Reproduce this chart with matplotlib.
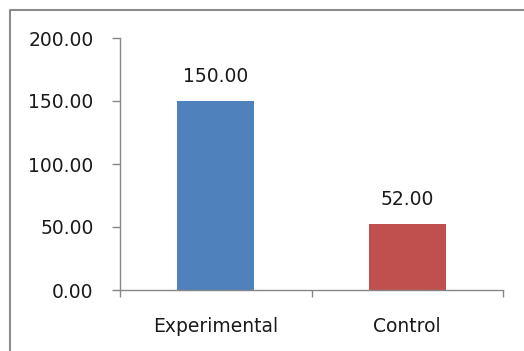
import matplotlib
matplotlib.use('Agg')
import matplotlib.pyplot as plt
import numpy as np

categories = ['Experimental', 'Control']
values = [150.00, 52.00]
bar_colors = ['#4F81BD', '#C0504D']
y_ticks = [0, 50, 100, 150, 200]

plt.rcParams['font.family'] = ['DejaVu Sans']

fig = plt.figure(figsize=(5.24, 3.51), dpi=100)
# chart border (left and top only visible in the reference)
fig.add_artist(plt.Line2D([9.5 / 524, 9.5 / 524, 1.0], [0, 1 - 10 / 351, 1 - 10 / 351],
                          color='#8c8c8c', lw=1.5, solid_capstyle='butt', transform=fig.transFigure))

ax = fig.add_axes([120 / 524, 61 / 351, 383 / 524, 252 / 351])
x = np.arange(len(categories))
bars = ax.bar(x, values, width=0.4, color=bar_colors)

for b, v in zip(bars, values):
    ax.annotate('%.2f' % v, (b.get_x() + b.get_width() / 2, v), xytext=(0, 11),
                textcoords='offset points', ha='center', va='bottom', fontsize=13.5, color='#1a1a1a')

ax.set_xlim(-0.5, len(categories) - 0.5)
ax.set_ylim(0, 200)
ax.set_yticks(y_ticks)
ax.set_yticklabels(['%.2f' % t for t in y_ticks])
ax.set_xticks(x)
ax.set_xticklabels(categories)
ax.set_xticks(np.arange(len(categories) + 1) - 0.5, minor=True)

for s in ['top', 'right']:
    ax.spines[s].set_visible(False)
for s in ['left', 'bottom']:
    ax.spines[s].set_color('#868686')
    ax.spines[s].set_linewidth(1.0)

ax.tick_params(axis='y', length=6, width=1, color='#868686', pad=13, labelsize=13.5, labelcolor='#1a1a1a')
ax.tick_params(axis='x', which='major', length=0, pad=19.5, labelsize=13.5, labelcolor='#1a1a1a')
ax.tick_params(axis='x', which='minor', length=5, width=1, color='#868686')

fig.savefig('out.png', dpi=100)
